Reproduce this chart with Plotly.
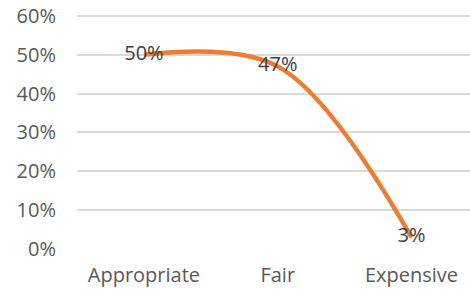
import plotly.graph_objects as go

categories = ["Appropriate", "Fair", "Expensive"]
values = [0.50, 0.47, 0.03]
labels = ["50%", "47%", "3%"]
y_ticks = [0, 0.1, 0.2, 0.3, 0.4, 0.5, 0.6]
y_tick_text = ["0%", "10%", "20%", "30%", "40%", "50%", "60%"]

fig = go.Figure()
fig.add_trace(go.Scatter(
    x=categories, y=values, mode="lines+text",
    line=dict(color="#ED7D31", width=4.5, shape="spline", smoothing=1),
    text=labels, textposition="middle center",
    textfont=dict(family="Open Sans", size=20, color="#404040"),
    cliponaxis=False, hoverinfo="skip",
))

fig.update_layout(
    width=470, height=297,
    margin=dict(l=77, r=0, t=12, b=48),
    paper_bgcolor="white", plot_bgcolor="white",
    showlegend=False,
    font=dict(family="Open Sans", size=20, color="#595959"),
)
fig.update_xaxes(
    type="category", range=[-0.5, 2.437], automargin=False,
    showgrid=False, zeroline=False, showline=False,
    ticks="outside", ticklen=8, tickcolor="rgba(0,0,0,0)",
    ticklabeloverflow="allow",
    tickfont=dict(family="Open Sans", size=20, color="#595959"),
)
fig.update_yaxes(
    range=[0, 0.61], tickvals=y_ticks, ticktext=y_tick_text, automargin=False,
    showgrid=True, gridcolor="#D9D9D9", gridwidth=1.5,
    zeroline=False, showline=False,
    ticks="outside", ticklen=16, tickcolor="rgba(0,0,0,0)",
    ticklabeloverflow="allow",
    tickfont=dict(family="Open Sans", size=20, color="#595959"),
)

fig.write_html("out.html", config={"displayModeBar": False},
               post_script="document.body.style.margin='0';")
